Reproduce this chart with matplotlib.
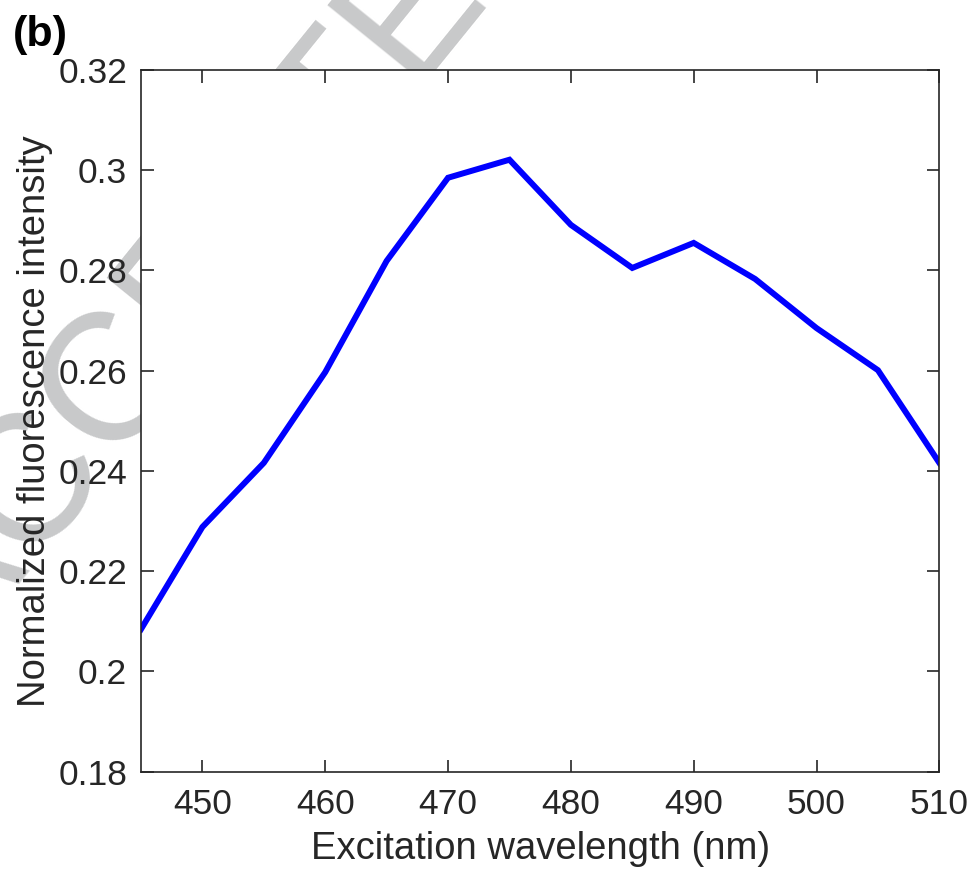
import numpy as np
import matplotlib
matplotlib.use("Agg")
import matplotlib.pyplot as plt

plt.rcParams["font.family"] = ["Liberation Sans", "DejaVu Sans"]

# excitation spectrum, 5 nm steps
wavelength = [445, 450, 455, 460, 465, 470, 475, 480, 485, 490, 495, 500, 505, 510]
intensity = [0.2084, 0.2288, 0.2416, 0.2597, 0.2819, 0.2985, 0.3021,
             0.2891, 0.2805, 0.2855, 0.2783, 0.2685, 0.2601, 0.2416]

x_ticks = [450, 460, 470, 480, 490, 500, 510]
y_ticks = [0.18, 0.20, 0.22, 0.24, 0.26, 0.28, 0.30, 0.32]
y_tick_labels = ["0.18", "0.2", "0.22", "0.24", "0.26", "0.28", "0.3", "0.32"]

AX_COL = "#262626"

fig = plt.figure(figsize=(9.73, 8.71), dpi=100)
ax = fig.add_axes([0.1449, 0.1142, 0.8205, 0.8054])

# diagonal stamp sitting behind the axes panel
fig.text(-0.046, 0.238, "ACCEPTED MANUSCRIPT", fontsize=130, color="#c8c9ca",
         rotation=51, rotation_mode="anchor", ha="left", va="baseline", zorder=-1)

ax.plot(wavelength, intensity, color="#0000ff", lw=4.3, solid_joinstyle="miter")

ax.set_xlim(445, 510)
ax.set_ylim(0.18, 0.32)
ax.set_xticks(x_ticks)
ax.set_yticks(y_ticks)
ax.set_yticklabels(y_tick_labels)

ax.tick_params(direction="in", length=9, width=1.2, colors=AX_COL,
               labelsize=25.5, top=True, right=True)
ax.tick_params(axis="y", pad=10)
ax.tick_params(axis="x", pad=12)
for s in ax.spines.values():
    s.set_color(AX_COL)
    s.set_linewidth(1.2)

ax.set_xlabel("Excitation wavelength (nm)", fontsize=27.5, color=AX_COL, labelpad=7)
ax.set_ylabel("Normalized fluorescence intensity", fontsize=27.5, color=AX_COL, labelpad=4)

fig.text(0.0134, 0.983, "(b)", fontsize=31, fontweight="bold", ha="left", va="top")

fig.savefig("out.png", dpi=100)
